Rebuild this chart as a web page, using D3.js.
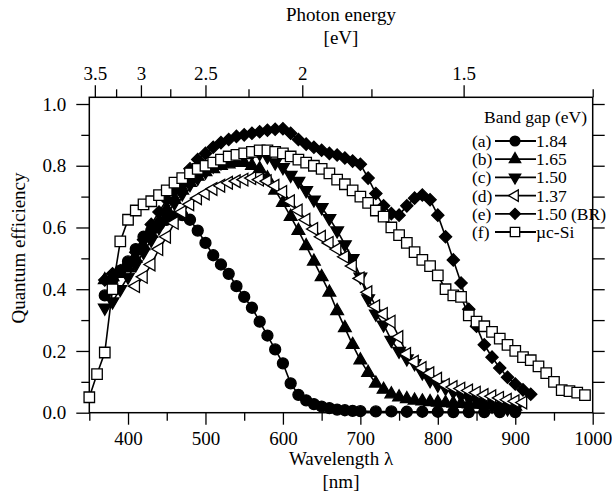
<!DOCTYPE html>
<html><head><meta charset="utf-8">
<script src="https://cdn.jsdelivr.net/npm/d3@7"></script>
<style>
body{margin:0;background:#fff;}
svg text{font-family:'Liberation Serif','Times New Roman',Times,'DejaVu Serif',serif !important;fill:#000;}
</style></head>
<body><svg id="c" width="612" height="499" font-family="Liberation Serif, Times New Roman, serif"></svg>
<script>
// ---- data ----
const wlA = [370,380,390,400,410,420,430,440,450,460,470,480,490,500,510,520,530,540,550,560,570,580,590,600,610,620,630,640,650,660,670,680,690,700,720,740,760,780,800,820,840,860,880,900];
const qeA = [0.38,0.43,0.46,0.49,0.53,0.57,0.59,0.61,0.625,0.635,0.64,0.625,0.59,0.55,0.51,0.48,0.45,0.41,0.375,0.34,0.295,0.25,0.205,0.16,0.095,0.058,0.04,0.028,0.02,0.015,0.01,0.008,0.006,0.005,0.004,0.004,0.003,0.003,0.003,0.002,0.002,0.002,0.002,0.002];

const wlB = [370,380,390,400,410,420,430,440,450,460,470,480,490,500,510,520,530,540,550,560,570,580,590,600,610,620,630,640,650,660,670,680,690,700,710,720,730,740,750,760,770,780,790,800,810,820,830,840,850,860,870,880,890,900];
const qeB = [0.43,0.44,0.45,0.47,0.50,0.54,0.58,0.62,0.66,0.69,0.72,0.745,0.765,0.78,0.79,0.80,0.805,0.81,0.81,0.80,0.79,0.76,0.72,0.68,0.635,0.59,0.54,0.49,0.44,0.39,0.33,0.275,0.22,0.17,0.13,0.095,0.075,0.06,0.05,0.045,0.04,0.037,0.035,0.033,0.032,0.03,0.029,0.028,0.027,0.026,0.025,0.024,0.022,0.02];

const wlC = [370,380,390,400,410,420,430,440,450,460,470,480,490,500,510,520,530,540,550,560,570,580,590,600,610,620,630,640,650,660,670,680,690,700,710,720,730,740,750,760,770,780,790,800,810,820,830,840,850,860,870,880,890,900];
const qeC = [0.34,0.36,0.40,0.44,0.48,0.52,0.56,0.60,0.64,0.68,0.71,0.74,0.76,0.78,0.80,0.81,0.82,0.83,0.835,0.84,0.84,0.83,0.81,0.795,0.77,0.75,0.72,0.69,0.665,0.63,0.59,0.545,0.50,0.44,0.37,0.32,0.285,0.235,0.20,0.175,0.16,0.13,0.105,0.09,0.08,0.068,0.057,0.047,0.04,0.03,0.022,0.017,0.013,0.01];

const wlD = [410,420,430,440,450,460,470,480,490,500,510,520,530,540,550,560,570,580,590,600,610,620,630,640,650,660,670,680,690,700,710,720,730,740,750,760,770,780,790,800,810,820,830,840,850,860,870,880,890,900,910];
const qeD = [0.41,0.44,0.48,0.53,0.57,0.615,0.65,0.675,0.695,0.71,0.725,0.735,0.745,0.75,0.755,0.76,0.755,0.75,0.735,0.715,0.685,0.655,0.625,0.595,0.57,0.55,0.53,0.505,0.475,0.435,0.39,0.345,0.32,0.295,0.245,0.19,0.165,0.145,0.128,0.11,0.09,0.083,0.078,0.072,0.065,0.057,0.053,0.048,0.042,0.037,0.033];

const wlE = [370,380,390,400,410,420,430,440,450,460,470,480,490,500,510,520,530,540,550,560,570,580,590,600,610,620,630,640,650,660,670,680,690,700,710,720,730,740,750,760,770,780,790,800,810,820,830,840,850,860,870,880,890,900,910,920];
const qeE = [0.43,0.45,0.46,0.48,0.52,0.56,0.61,0.65,0.69,0.72,0.75,0.79,0.82,0.84,0.86,0.875,0.885,0.895,0.90,0.905,0.91,0.915,0.918,0.92,0.905,0.885,0.87,0.86,0.85,0.84,0.835,0.825,0.815,0.805,0.76,0.71,0.67,0.645,0.64,0.67,0.695,0.705,0.69,0.64,0.57,0.495,0.42,0.335,0.28,0.22,0.18,0.145,0.115,0.093,0.074,0.06];

const wlF = [350,360,370,380,390,400,410,420,430,440,450,460,470,480,490,500,510,520,530,540,550,560,570,580,590,600,610,620,630,640,650,660,670,680,690,700,710,720,730,740,750,760,770,780,790,800,810,820,830,840,850,860,870,880,890,900,910,920,930,940,950,960,970,980,990];
const qeF = [0.05,0.125,0.195,0.40,0.555,0.625,0.655,0.675,0.685,0.705,0.72,0.745,0.76,0.775,0.79,0.80,0.81,0.82,0.83,0.835,0.84,0.845,0.85,0.85,0.845,0.84,0.83,0.82,0.81,0.80,0.79,0.775,0.755,0.74,0.72,0.70,0.68,0.655,0.635,0.60,0.575,0.55,0.52,0.495,0.475,0.445,0.40,0.38,0.375,0.315,0.295,0.28,0.262,0.24,0.22,0.20,0.18,0.17,0.15,0.128,0.10,0.073,0.07,0.065,0.057];

const legendTags = ["(a)","(b)","(c)","(d)","(e)","(f)"];
const legendVals = ["1.84","1.65","1.50","1.37","1.50 (BR)","µc-Si"];
const xMajor = [400,500,600,700,800,900,1000];
const xMinor = [350,450,550,650,750,850,950];
const yMajor = [0,0.2,0.4,0.6,0.8,1.0];
const yMinor = [0.1,0.3,0.5,0.7,0.9];
const eMajor = [3.5,3,2.5,2,1.5];
const eMinor = [3.25,2.75,2.25,1.75,1.25];

// ---- chart ----
const FONT = "'Liberation Serif','Times New Roman',Times,serif";
const svg = d3.select("#c");
const L=89.3, R=592.7, B=412.7, T=97.3;
const x = d3.scaleLinear().domain([350,1000]).range([L,R]);
const y = d3.scaleLinear().domain([0,1]).range([B,104]);
const FS = "19px";

function styleAxis(g){
  g.attr("font-family",FONT);
  g.select(".domain").remove();
  g.selectAll(".tick line").attr("stroke","#000").attr("stroke-width",1.3);
  g.selectAll("text").style("font-size",FS).attr("font-family",FONT).style("font-family",FONT);
}

// bottom
svg.append("g").attr("transform",`translate(0,${B})`)
  .call(d3.axisBottom(x).tickValues(xMajor).tickSize(12).tickPadding(7).tickFormat(d3.format("d"))).call(styleAxis);
svg.append("g").attr("transform",`translate(0,${B})`)
  .call(d3.axisBottom(x).tickValues(xMinor).tickSize(8).tickFormat("")).call(styleAxis);
// left
svg.append("g").attr("transform",`translate(${L},0)`)
  .call(d3.axisLeft(y).tickValues(yMajor).tickSize(13).tickPadding(10).tickFormat(d3.format(".1f"))).call(styleAxis);
svg.append("g").attr("transform",`translate(${L},0)`)
  .call(d3.axisLeft(y).tickValues(yMinor).tickSize(8).tickFormat("")).call(styleAxis);
// right
svg.append("g").attr("transform",`translate(${R},0)`)
  .call(d3.axisRight(y).tickValues(yMajor.concat(yMinor)).tickSize(12).tickFormat("")).call(styleAxis);
// top (photon energy, nm = 1250/E)
svg.append("g").attr("transform",`translate(0,${T})`)
  .call(d3.axisTop(x).tickValues(eMajor.map(e=>1250/e)).tickSize(12).tickPadding(5)
    .tickFormat(d=>String(+(1250/d).toFixed(2)))).call(styleAxis);
svg.append("g").attr("transform",`translate(0,${T})`)
  .call(d3.axisTop(x).tickValues(eMinor.map(e=>1250/e)).tickSize(8).tickFormat("")).call(styleAxis);

// frame
svg.append("rect").attr("x",L).attr("y",T).attr("width",R-L).attr("height",B-T)
  .attr("fill","none").attr("stroke","#000").attr("stroke-width",1.5);

// axis titles
function title(txt,xx,yy,rot){
  const t=svg.append("text").attr("text-anchor","middle").attr("font-family",FONT).style("font-family",FONT).style("font-size",FS).text(txt);
  if(rot) t.attr("transform",`translate(${xx},${yy}) rotate(-90)`);
  else t.attr("x",xx).attr("y",yy);
}
title("Photon energy",341,21);
title("[eV]",341,44);
title("Wavelength λ",341,465);
title("[nm]",341,488);
title("Quantum efficiency",25,248,true);

// series
const series = [
  {wl:wlA,qe:qeA,sym:d3.symbolCircle,size:95,rot:0,fill:"#000"},
  {wl:wlB,qe:qeB,sym:d3.symbolTriangle,size:70,rot:0,fill:"#000"},
  {wl:wlC,qe:qeC,sym:d3.symbolTriangle,size:70,rot:180,fill:"#000"},
  {wl:wlD,qe:qeD,sym:d3.symbolTriangle,size:70,rot:-90,fill:"#fff"},
  {wl:wlE,qe:qeE,sym:d3.symbolSquare,size:75,rot:45,fill:"#000"},
  {wl:wlF,qe:qeF,sym:d3.symbolSquare,size:110,rot:0,fill:"#fff"}
];
const line = d3.line().x(d=>x(d[0])).y(d=>y(d[1]));
series.forEach(s=>{
  const pts = s.wl.map((w,i)=>[w,s.qe[i]]);
  const g = svg.append("g");
  g.append("path").attr("d",line(pts)).attr("fill","none").attr("stroke","#000").attr("stroke-width",1.6);
  g.selectAll("path.m").data(pts).enter().append("path").attr("class","m")
    .attr("d",d3.symbol().type(s.sym).size(s.size))
    .attr("transform",d=>`translate(${x(d[0])},${y(d[1])}) rotate(${s.rot})`)
    .attr("fill",s.fill).attr("stroke","#000").attr("stroke-width",1.3);
});

// legend
const LF="17.5px";
function ltext(txt,xx,yy,anchor){
  return svg.append("text").attr("x",xx).attr("y",yy).attr("text-anchor",anchor||"start")
    .attr("font-family",FONT).style("font-family",FONT).style("font-size",LF).text(txt);
}
ltext("Band gap (eV)",587,123,"end");
series.forEach((s,i)=>{
  const yy = 141 + i*18.2;
  ltext(legendTags[i],472,yy+6);
  svg.append("line").attr("x1",495).attr("x2",536).attr("y1",yy).attr("y2",yy).attr("stroke","#000").attr("stroke-width",1.8);
  svg.append("path").attr("d",d3.symbol().type(s.sym).size(s.size*0.8))
    .attr("transform",`translate(515,${yy}) rotate(${s.rot})`)
    .attr("fill",s.fill).attr("stroke","#000").attr("stroke-width",1.3);
  ltext(legendVals[i],536,yy+6);
});
</script></body></html>
